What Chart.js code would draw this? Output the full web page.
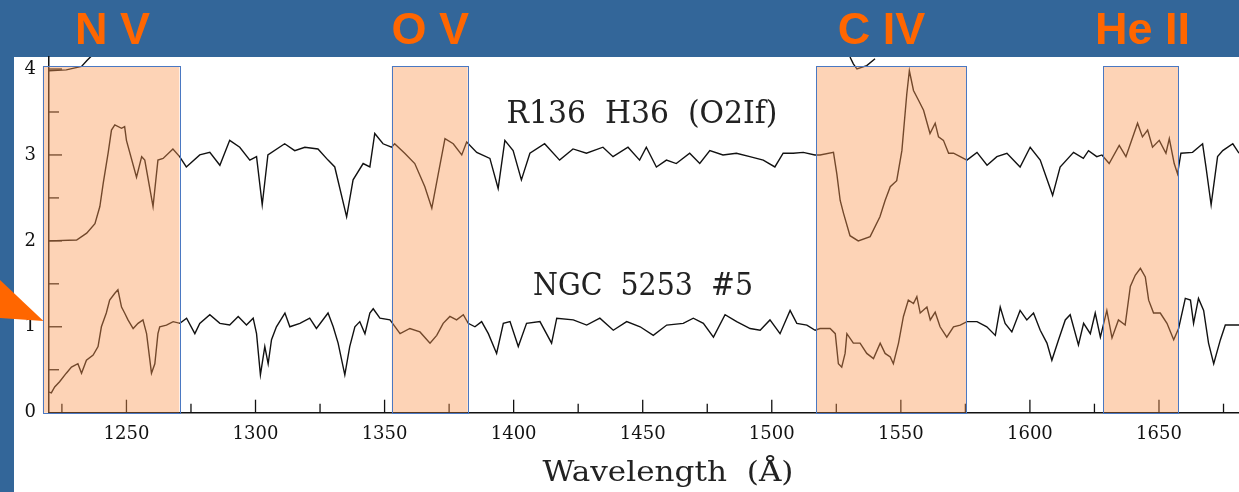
<!DOCTYPE html>
<html>
<head>
<meta charset="utf-8">
<script src="https://cdn.jsdelivr.net/npm/chart.js@4.4.0/dist/chart.umd.min.js"></script>
<style>
    html, body { margin: 0; padding: 0; background: #336699; }
    #wrap { width: 1239px; height: 492px; }
</style>
</head>
<body>
<div id="wrap"><canvas id="chart" width="1239" height="492"></canvas></div>
<script>
// Wavelength grid (Angstrom) and normalized flux of R136 H36 (shifted up by 2)
const lamTop = [1220, 1230.7, 1234.6, 1237.8, 1239.7, 1241, 1242.9, 1244.2, 1245.5, 1248.1,
    1249.3, 1250, 1253.9, 1255.9, 1257.1, 1260.3, 1262.2, 1264.2, 1268, 1270.6,
    1273.2, 1278.4, 1282.3, 1286.2, 1290, 1293.9, 1297.8, 1300.4, 1302.6, 1304.8,
    1311.3, 1315.2, 1319.1, 1324.2, 1328.1, 1330.7, 1335.3, 1337.8, 1341.7, 1344.3,
    1346.2, 1349.4, 1352.7, 1353.9, 1357.8, 1361.7, 1365.6, 1368.3, 1370.8, 1373.4,
    1376.6, 1379.9, 1381.8, 1385.7, 1390.8, 1394, 1396.6, 1399.8, 1403, 1406.3,
    1412, 1417.8, 1423, 1428.2, 1434.6, 1438.5, 1444.3, 1448.8, 1451.4, 1455.3,
    1459.2, 1463, 1468.2, 1472.1, 1476, 1481.1, 1486.3, 1491.5, 1496.7, 1501.2,
    1504.4, 1508.3, 1512.2, 1516.7, 1518.7, 1523.9, 1525.2, 1526.5, 1527.8, 1530.3,
    1533.5, 1538.1, 1541.9, 1543.9, 1545.9, 1548.4, 1550.4, 1552.3, 1553.3, 1554.9,
    1556.8, 1558.8, 1561.3, 1563.3, 1564.6, 1566.5, 1568.5, 1570.4, 1573, 1575.6,
    1579.5, 1583.4, 1587.2, 1591.1, 1596.2, 1600.1, 1604, 1608.8, 1611.7, 1616.9,
    1620.7, 1622.7, 1625.9, 1627.9, 1630.7, 1634.6, 1637.2, 1641.7, 1643.6, 1645.6,
    1647.5, 1650.1, 1652.7, 1654, 1655.9, 1657.2, 1658.5, 1663, 1666.9, 1668.2,
    1670.2, 1672.7, 1674.7, 1678.6, 1681];
const fluxTop = [2.0, 2.01, 2.09, 2.2, 2.40, 2.67, 3.02, 3.29, 3.35, 3.31,
    3.33, 3.17, 2.74, 2.98, 2.94, 2.40, 2.94, 2.96, 3.07, 2.98,
    2.86, 3.0, 3.03, 2.88, 3.17, 3.09, 2.94, 2.98, 2.42, 3.0,
    3.13, 3.05, 3.09, 3.07, 2.94, 2.86, 2.28, 2.71, 2.90, 2.86,
    3.25, 3.13, 3.09, 3.13, 3.02, 2.90, 2.63, 2.38, 2.78, 3.19,
    3.13, 3.0, 3.15, 3.03, 2.96, 2.61, 3.17, 3.05, 2.71, 3.02,
    3.13, 2.94, 3.07, 3.02, 3.09, 2.98, 3.09, 2.94, 3.09, 2.86,
    2.94, 2.90, 3.02, 2.90, 3.05, 3.0, 3.02, 2.98, 2.94, 2.86,
    3.02, 3.02, 3.03, 3.0, 3.0, 3.03, 2.78, 2.47, 2.32, 2.06,
    2.0, 2.05, 2.28, 2.47, 2.63, 2.70, 3.05, 3.71, 3.98, 3.75,
    3.64, 3.52, 3.25, 3.37, 3.21, 3.17, 3.02, 3.02, 2.98, 2.94,
    3.03, 2.88, 2.98, 3.02, 2.86, 3.09, 2.94, 2.53, 2.86, 3.03,
    2.96, 3.05, 2.98, 3.0, 2.90, 3.11, 2.98, 3.37, 3.21, 3.29,
    3.09, 3.17, 3.02, 3.19, 2.90, 2.78, 3.02, 3.03, 3.13, 2.86,
    2.42, 2.98, 3.05, 3.13, 3.02];

// NGC 5253 #5, normalized flux
const lamLow = [1220, 1220.9, 1222.2, 1224.1, 1226.7, 1228.7, 1231.2, 1232.6, 1234.5, 1237.1,
    1239, 1240.3, 1242.2, 1243.5, 1245.5, 1246.7, 1248.1, 1249.3, 1250.6, 1252.6,
    1254.5, 1256.4, 1257.8, 1259.7, 1261, 1262.2, 1262.9, 1265.5, 1268.1, 1270.7,
    1273.3, 1276.5, 1278.4, 1282.3, 1286.2, 1290, 1293.3, 1296.5, 1299.1, 1300.4,
    1301.9, 1303.6, 1304.9, 1306.2, 1308.1, 1311.4, 1313.3, 1317.2, 1321, 1323.6,
    1328.1, 1330.1, 1332, 1334.6, 1336.5, 1338.5, 1340.4, 1342.4, 1344.3, 1345.6,
    1348.2, 1352.1, 1356, 1359.8, 1363.7, 1367.6, 1370.2, 1372.7, 1375.3, 1377.9,
    1380.5, 1382.4, 1385, 1387.6, 1390.2, 1393.4, 1396, 1398.6, 1401.8, 1405,
    1410.2, 1414.7, 1416.7, 1423.1, 1428.3, 1433.4, 1438.6, 1443.8, 1449, 1454.1,
    1459.3, 1465.7, 1469.6, 1473.5, 1477.4, 1481.9, 1486.4, 1491.6, 1495.5, 1499.3,
    1503.2, 1507.1, 1509.7, 1513.6, 1516.8, 1518.7, 1522.6, 1524.6, 1525.8, 1527.1,
    1528.4, 1529.1, 1531.6, 1534.2, 1536.8, 1539.4, 1542, 1543.9, 1545.9, 1547.1,
    1549.1, 1551, 1552.9, 1554.9, 1556.2, 1557.5, 1560.1, 1561.4, 1563.3, 1565.2,
    1567.8, 1570.4, 1573, 1575.6, 1579.5, 1583.3, 1586.6, 1588.5, 1590.4, 1593,
    1596.2, 1598.8, 1601.4, 1604, 1606.6, 1608.5, 1611.1, 1613.7, 1615.6, 1618.8,
    1620.8, 1623.4, 1625.3, 1627.3, 1629.8, 1631.8, 1634.3, 1636.9, 1638.9, 1640.8,
    1642.8, 1644.7, 1646, 1647.9, 1650.5, 1653.1, 1655.7, 1657.6, 1660.2, 1662.2,
    1663.4, 1665.3, 1667.3, 1669.2, 1671.2, 1673.8, 1675.7, 1681.1];
const fluxLow = [0.24, 0.23, 0.30, 0.36, 0.46, 0.53, 0.57, 0.46, 0.61, 0.67,
    0.77, 1.0, 1.16, 1.31, 1.39, 1.43, 1.23, 1.16, 1.08, 0.98,
    1.04, 1.08, 0.92, 0.46, 0.57, 0.92, 1.0, 1.02, 1.06, 1.04,
    1.10, 0.92, 1.04, 1.14, 1.04, 1.02, 1.12, 1.02, 1.10, 0.92,
    0.44, 0.77, 0.57, 0.85, 1.0, 1.16, 1.0, 1.04, 1.10, 0.98,
    1.16, 1.0, 0.81, 0.44, 0.77, 1.0, 1.06, 0.92, 1.16, 1.21,
    1.10, 1.08, 0.92, 0.98, 0.94, 0.81, 0.90, 1.04, 1.12, 1.08,
    1.14, 1.04, 1.0, 1.06, 0.92, 0.69, 1.04, 1.06, 0.77, 1.04,
    1.06, 0.81, 1.10, 1.08, 1.02, 1.10, 0.96, 1.06, 1.0, 0.90,
    1.02, 1.04, 1.10, 1.04, 0.88, 1.14, 1.06, 0.98, 0.96, 1.08,
    0.92, 1.19, 1.04, 1.02, 0.96, 0.98, 0.98, 0.92, 0.57, 0.53,
    0.69, 0.92, 0.81, 0.81, 0.69, 0.63, 0.81, 0.69, 0.65, 0.57,
    0.81, 1.12, 1.31, 1.27, 1.35, 1.16, 1.23, 1.08, 1.17, 1.0,
    0.88, 1.0, 1.02, 1.06, 1.06, 1.0, 0.90, 1.23, 1.04, 0.94,
    1.19, 1.08, 1.16, 0.96, 0.81, 0.61, 0.85, 1.08, 1.14, 0.79,
    1.04, 0.92, 1.16, 0.88, 1.19, 0.87, 1.08, 1.02, 1.47, 1.60,
    1.68, 1.58, 1.31, 1.16, 1.16, 1.04, 0.85, 0.98, 1.33, 1.31,
    1.04, 1.33, 1.19, 0.81, 0.57, 0.85, 1.02, 1.02];

// Third spectrum, above the frame: only two short bits are visible
const lamAbove = [1220, 1226.7, 1232.6, 1234.7, 1236.4, 1400, 1530.3, 1531.6, 1533, 1536.8, 1540];
const fluxAbove = [3.98, 3.99, 4.03, 4.10, 4.15, null, 4.14, 4.06, 4.0, 4.04, 4.12];

// Highlighted line regions
const lineNames = ['N V', 'O V', 'C IV', 'He II'];
const boxStart = [1217.6, 1352.8, 1517.3, 1628.5];
const boxEnd = [1270.5, 1382.2, 1575.4, 1657.5];
const boxTop = 4.035;

const starNames = ['R136  H36  (O2If)', 'NGC  5253  #5'];

function toPoints(xs, ys) {
    return xs.map((x, i) => ({x: x, y: ys[i]}));
}

// Draw text scaled horizontally to a given width
function fitText(ctx, text, cx, baseline, width, font, color) {
    ctx.save();
    ctx.font = font;
    let w = ctx.measureText(text).width;
    ctx.translate(cx, baseline);
    ctx.scale(width / w, 1);
    ctx.textAlign = 'center';
    ctx.textBaseline = 'alphabetic';
    ctx.fillStyle = color;
    ctx.fillText(text, 0, 0);
    ctx.restore();
}

function line(ctx, x0, y0, x1, y1) {
    ctx.beginPath();
    ctx.moveTo(x0, y0);
    ctx.lineTo(x1, y1);
    ctx.stroke();
}

const backgroundPlugin = {
    id: 'background',
    beforeDraw: (chart) => {
        const ctx = chart.ctx;
        ctx.save();
        ctx.fillStyle = '#336699';
        ctx.fillRect(0, 0, chart.width, chart.height);
        ctx.fillStyle = '#ffffff';
        ctx.fillRect(14, 57, chart.width - 14, chart.height - 57);
        ctx.restore();
    }
};

const overlayPlugin = {
    id: 'overlay',
    afterDatasetsDraw: (chart) => {
        const ctx = chart.ctx;
        const a = chart.chartArea;
        const xs = chart.scales.x, ys = chart.scales.y;
        ctx.save();

        // Inward tick marks, longer at labelled values
        ctx.strokeStyle = '#111';
        ctx.lineWidth = 1.3;
        xs.ticks.forEach(t => {
            let px = xs.getPixelForValue(t.value);
            let len = t.value % 50 === 0 ? 13 : 9;
            line(ctx, px, a.bottom, px, a.bottom - len);
        });
        ys.ticks.forEach(t => {
            let py = ys.getPixelForValue(t.value);
            let len = Number.isInteger(t.value) ? 13 : 10;
            line(ctx, a.left, py, a.left + len, py);
        });

        // Shaded regions over the spectra
        let yTop = ys.getPixelForValue(boxTop);
        let yBot = ys.getPixelForValue(0);
        for (let i = 0; i < boxStart.length; i++) {
            let x0 = xs.getPixelForValue(boxStart[i]);
            let x1 = xs.getPixelForValue(boxEnd[i]);
            ctx.fillStyle = 'rgba(250,150,80,0.42)';
            ctx.fillRect(x0, yTop, x1 - x0, yBot - yTop);
            ctx.strokeStyle = '#4a78c2';
            ctx.lineWidth = 1;
            ctx.strokeRect(Math.round(x0) + 0.5, Math.round(yTop) + 0.5, Math.round(x1 - x0), Math.round(yBot - yTop));
        }

        // Ion names in the blue band
        const labelShift = [1.5, 0.5, -10, 1.5];
        ctx.fillStyle = '#ff6600';
        ctx.font = 'bold 45px "Liberation Sans", Arial, sans-serif';
        ctx.textAlign = 'center';
        ctx.textBaseline = 'alphabetic';
        for (let i = 0; i < lineNames.length; i++) {
            let cx = (xs.getPixelForValue(boxStart[i]) + xs.getPixelForValue(boxEnd[i])) / 2 + labelShift[i];
            ctx.fillText(lineNames[i], cx, 44);
        }

        // Orange pointer on the left edge
        ctx.beginPath();
        ctx.moveTo(0, 280);
        ctx.lineTo(43.5, 321);
        ctx.lineTo(0, 318);
        ctx.closePath();
        ctx.fill();

        // Star names and axis title
        fitText(ctx, starNames[0], 642, 123, 271, '31px "DejaVu Serif", serif', '#222');
        fitText(ctx, starNames[1], 643, 295, 220, '31px "DejaVu Serif", serif', '#222');
        fitText(ctx, 'Wavelength  (\u00C5)', 668, 481, 251, '27px "DejaVu Serif", serif', '#222');

        ctx.restore();
    }
};

const lineStyle = {borderColor: '#111', borderWidth: 1.4, pointRadius: 0, tension: 0, fill: false};

new Chart(document.getElementById('chart'), {
    type: 'line',
    data: {
        datasets: [
            Object.assign({label: 'R136 H36', data: toPoints(lamTop, fluxTop)}, lineStyle),
            Object.assign({label: 'NGC 5253 #5', data: toPoints(lamLow, fluxLow)}, lineStyle),
            Object.assign({label: 'above', data: toPoints(lamAbove, fluxAbove)}, lineStyle)
        ]
    },
    options: {
        responsive: false,
        animation: false,
        devicePixelRatio: 1,
        layout: {padding: {top: 57, left: 0, right: 0, bottom: 0}},
        plugins: {legend: {display: false}, tooltip: {enabled: false}},
        scales: {
            x: {
                type: 'linear',
                min: 1220,
                max: 1681,
                grid: {display: false, drawTicks: false},
                border: {display: true, color: '#111', width: 1.5},
                ticks: {
                    stepSize: 25,
                    includeBounds: false,
                    autoSkip: false,
                    maxRotation: 0,
                    padding: 11,
                    color: '#111',
                    font: {family: 'DejaVu Serif', size: 18},
                    callback: (v) => v % 50 === 0 ? String(v) : ''
                },
                afterFit: (s) => { s.height = 79.3; }
            },
            y: {
                min: 0,
                max: 4.14,
                grid: {display: false, drawTicks: false},
                border: {display: true, color: '#111', width: 1.5},
                ticks: {
                    stepSize: 0.5,
                    includeBounds: false,
                    padding: 13,
                    color: '#111',
                    font: {family: 'DejaVu Serif', size: 18},
                    callback: (v) => Number.isInteger(v) ? String(v) : ''
                },
                afterFit: (s) => { s.width = 49; }
            }
        }
    },
    plugins: [backgroundPlugin, overlayPlugin]
});
</script>
</body>
</html>
